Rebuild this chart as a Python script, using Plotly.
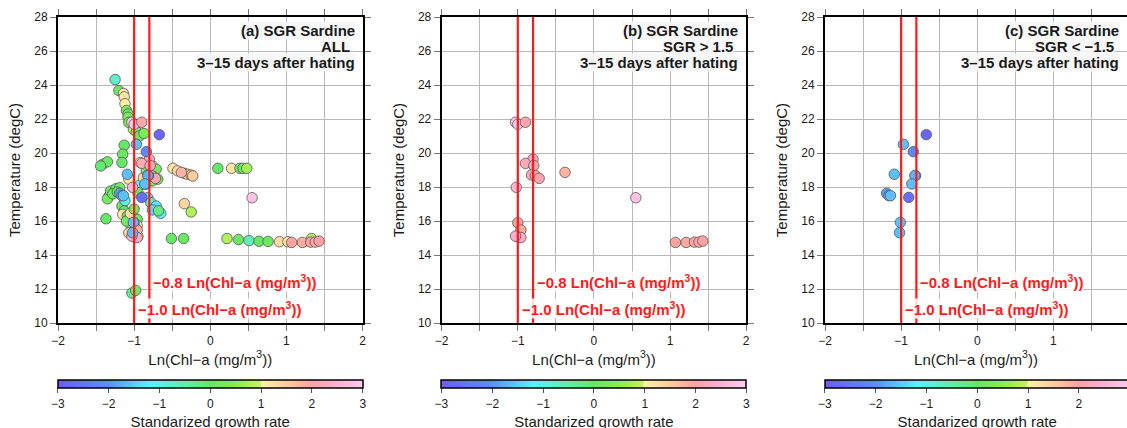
import plotly.graph_objects as go

# ---------------- data ----------------
# Points with |SGR| <= 1.5 (appear only in panel a)
mid_chl = [-1.25, -1.20, -1.14, -1.13, -1.12, -1.10, -1.08, -1.08, -1.07, -1.01,
           -0.97, -0.93, -0.87, -1.13, -1.15, -1.41, -1.35, -1.44, -1.16, -0.92,
           -0.80, -0.76, -0.71, -0.69, -1.07, -0.93, -0.85, -0.80, -0.76, -0.49,
           -0.43, -0.34, -0.30, -0.25, -0.23, 0.10, 0.28, 0.39, 0.43, 0.48,
           -0.34, -0.25, -1.33, -1.35, -1.31, -1.24, -1.19, -1.16, -1.13, -1.15,
           -1.09, -1.07, -1.00, -0.96, -1.02, -1.04, -0.96, -0.97, -1.07, -1.00,
           -0.95, -1.37, -0.95, -0.82, -0.78, -0.71, -0.76, -0.65, -0.68, -0.51,
           -0.35, 0.22, 0.37, 0.51, 0.64, 0.76, 0.91, 1.02, 1.33, -1.03, -0.98,
           -1.28, -1.22, -1.10, -1.05, -0.98, -0.88, -0.84, -0.74, -1.12, -1.00]
mid_temp = [24.32, 23.67, 23.50, 23.30, 22.90, 22.50, 22.30, 22.10, 21.80, 21.40,
            21.25, 21.00, 21.15, 20.46, 19.93, 19.34, 19.48, 19.24, 19.44, 19.44,
            19.44, 19.24, 19.05, 18.46, 18.46, 18.10, 18.16, 18.36, 18.36, 19.10,
            18.95, 18.80, 18.75, 18.70, 18.65, 19.10, 19.10, 19.10, 19.10, 19.10,
            17.02, 16.53, 17.47, 17.31, 17.76, 17.90, 17.96, 16.88, 16.59, 16.39,
            16.29, 16.10, 16.20, 16.10, 15.90, 15.70, 15.74, 15.40, 15.30, 15.20,
            15.10, 16.13, 17.67, 17.37, 17.08, 16.88, 16.65, 16.45, 16.60, 14.97,
            14.97, 14.97, 14.91, 14.85, 14.81, 14.80, 14.78, 14.78, 14.97, 11.76, 11.92,
            17.60, 17.70, 16.00, 16.45, 15.55, 18.55, 18.95, 18.60, 17.20, 16.70]
mid_sgr = [-0.8, 0.1, 1.2, 1.2, 1.0, 0.2, 0.1, 0.3, 0.2, 0.9,
           0.2, 0.1, 0.3, 0.0, 0.1, 0.0, 0.1, -0.1, 0.0, 1.2,
           1.3, 1.1, 0.2, 0.2, 1.2, -1.2, 0.1, 0.0, 0.2, 1.2,
           1.3, 1.2, 1.4, 1.45, 1.5, 0.0, 1.2, 0.2, 0.1, 0.7,
           1.4, 0.8, 1.2, 0.2, 0.1, 0.0, 0.2, 0.1, 0.0, 1.1,
           0.2, 0.0, 0.2, 0.1, 1.2, 0.1, 1.3, 1.3, 1.4, 1.5,
           1.3, 0.0, 0.1, -1.3, -0.8, -1.3, -1.4, -1.2, -0.2, 0.0,
           0.1, 0.8, 0.1, -0.6, 0.0, 0.1, 1.3, 1.2, 0.8, -0.3, 0.1,
           0.1, 0.0, 0.2, 1.2, 0.1, 1.4, 0.3, 1.2, -1.0, 0.2]

# Points with SGR > 1.5 (panel b)
high_chl = [-1.03, -1.00, -0.90, -0.80, -0.90, -0.79, -0.82, -0.77, -0.72, -0.38,
            -1.02, 0.55, -1.00, -0.96, -1.00, -0.96, -1.03, 1.07, 1.21, 1.32, 1.38, 1.43]
high_temp = [21.81, 21.69, 21.81, 19.63, 19.39, 19.26, 18.71, 18.67, 18.51, 18.86,
             17.98, 17.37, 15.90, 15.47, 15.07, 15.03, 15.11, 14.74, 14.74, 14.76, 14.76, 14.82]
high_sgr = [2.9, 3.0, 2.1, 2.3, 2.2, 2.2, 2.3, 2.0, 2.1, 1.8,
            2.5, 2.8, 2.0, 1.9, 2.4, 2.3, 2.4, 2.0, 1.9, 2.0, 2.1, 2.0]

# Points with SGR < -1.5 (panel c)
low_chl = [-0.67, -0.97, -0.84, -1.09, -0.81, -0.82, -0.86, -1.19, -1.16, -1.14, -0.90, -1.01, -1.02]
low_temp = [21.08, 20.51, 20.08, 18.75, 18.67, 18.67, 18.18, 17.63, 17.49, 17.49, 17.39, 15.92, 15.31]
low_sgr = [-2.8, -1.6, -2.1, -1.6, -2.0, -1.7, -1.6, -1.9, -1.7, -1.6, -2.6, -1.6, -1.6]

thresholds = [-1.0, -0.8]
panel_titles = [["(a) SGR Sardine", "ALL", "3–15 days after hating"],
                ["(b) SGR Sardine", "SGR > 1.5", "3–15 days after hating"],
                ["(c) SGR Sardine", "SGR < −1.5", "3–15 days after hating"]]
cbar_ticks = [-3, -2, -1, 0, 1, 2, 3]

panels = [
    (mid_chl + high_chl + low_chl, mid_temp + high_temp + low_temp, mid_sgr + high_sgr + low_sgr),
    (high_chl, high_temp, high_sgr),
    (low_chl, low_temp, low_sgr),
]

# ---------------- style ----------------
W, H = 1127, 428
FONT = "Liberation Sans, Arial, Helvetica, sans-serif"
colorscale = [
    [0.000, "#6e5cf6"],
    [0.160, "#5a8cfa"],
    [0.300, "#5cf0ff"],
    [0.420, "#5ef0a8"],
    [0.500, "#64e866"],
    [0.580, "#88ec54"],
    [0.660, "#c4f25a"],
    [0.668, "#fff2aa"],
    [0.750, "#ffcc9e"],
    [0.833, "#ffa2a2"],
    [0.900, "#ffaecc"],
    [1.000, "#ffcaf0"],
]

x_px = [(58, 362.5), (441.7, 746.2), (825, 1127)]
y_top, y_bot = 17, 323
span = 304.5

fig = go.Figure()
for i, (xs, ys, cs) in enumerate(panels):
    n = "" if i == 0 else str(i + 1)
    fig.add_trace(go.Scatter(
        x=xs, y=ys, mode="markers",
        xaxis="x" + n, yaxis="y" + n,
        marker=dict(size=10.5, color=cs, coloraxis="coloraxis" + n,
                    line=dict(color="#555555", width=0.8)),
        showlegend=False,
    ))

layout = dict(
    width=W, height=H,
    margin=dict(l=0, r=0, t=0, b=0, autoexpand=False),
    paper_bgcolor="white", plot_bgcolor="white",
    font=dict(family=FONT, size=12, color="#1a1a1a"),
    shapes=[], annotations=[],
)

for i in range(3):
    n = "" if i == 0 else str(i + 1)
    x0, x1 = x_px[i]
    xr_max = -2 + 4 * (x1 - x0) / span
    common = dict(showline=True, linecolor="black", linewidth=2, mirror="ticks",
                  ticks="outside", ticklen=6, tickcolor="#777777", tickwidth=1,
                  showgrid=True, gridcolor="#b8b8b8", gridwidth=1, zeroline=False,
                  automargin=False,
                  tickfont=dict(size=12, family=FONT, color="#1a1a1a"))
    layout["xaxis" + n] = dict(
        domain=[x0 / W, x1 / W], range=[-2, xr_max],
        tickvals=[-2, -1, 0, 1, 2], ticktext=["−2", "−1", "0", "1", "2"],
        anchor="y" + n,
        minor=dict(dtick=0.5, tick0=0, ticks="outside", ticklen=6, tickcolor="#777777",
                   showgrid=True, gridcolor="#b8b8b8", gridwidth=1),
        title=dict(text="Ln(Chl−a (mg/m<sup>3</sup>))", font=dict(size=15, family=FONT), standoff=5),
        **common)
    layout["yaxis" + n] = dict(
        domain=[1 - y_bot / H, 1 - y_top / H], range=[10, 28], dtick=2,
        anchor="x" + n,
        title=dict(text="Temperature (degC)", font=dict(size=15, family=FONT), standoff=10),
        **common)
    layout["coloraxis" + n] = dict(
        cmin=-3, cmax=3, colorscale=colorscale,
        colorbar=dict(orientation="h", x=(x0 + span / 2) / W, xanchor="center",
                      len=span / W, lenmode="fraction", thickness=8,
                      y=1 - 380 / H, yanchor="top", xpad=0, ypad=0,
                      outlinewidth=1.5, outlinecolor="black",
                      ticks="outside", ticklen=5, tickcolor="#555555",
                      tickvals=cbar_ticks, ticktext=[str(v).replace("-", "−") for v in cbar_ticks],
                      tickfont=dict(size=12, family=FONT),
                      title=dict(text="Standarized growth rate", side="bottom",
                                 font=dict(size=15, family=FONT))),
    )
    for t in thresholds:
        layout["shapes"].append(dict(type="line", xref="x" + n, yref="y" + n + " domain",
                                     x0=t, x1=t, y0=0, y1=1,
                                     line=dict(color="#ff1a1a", width=2.2), layer="above"))
    for t, yfrac in zip(thresholds, [0.048, 0.136]):
        label = f"{t:.1f}".replace("-", "−") + " Ln(Chl−a (mg/m<sup>3</sup>))"
        layout["annotations"].append(dict(
            xref="x" + n, yref="y" + n + " domain", x=t, y=yfrac,
            xanchor="left", yanchor="middle", xshift=3, showarrow=False,
            text="<b>" + label + "</b>", font=dict(size=15, color="#ff1a1a", family=FONT),
            bgcolor="rgba(255,255,255,0.85)", borderpad=0))
    for k, (line, ypx) in enumerate(zip(panel_titles[i], [31, 47, 63])):
        layout["annotations"].append(dict(
            xref="x" + n + " domain", yref="paper", x=1, y=1 - ypx / H,
            xanchor="right", yanchor="middle", xshift=-7 - (5 if k == 1 else 0),
            showarrow=False, text="<b>" + line + "</b>",
            font=dict(size=15, color="#1a1a1a", family=FONT),
            bgcolor="rgba(246,246,246,0.9)", borderpad=0))

fig.update_layout(**layout)
fig.write_html("out.html", config={"displayModeBar": False},
               post_script="document.body.style.margin='0';document.body.style.overflow='hidden';")
